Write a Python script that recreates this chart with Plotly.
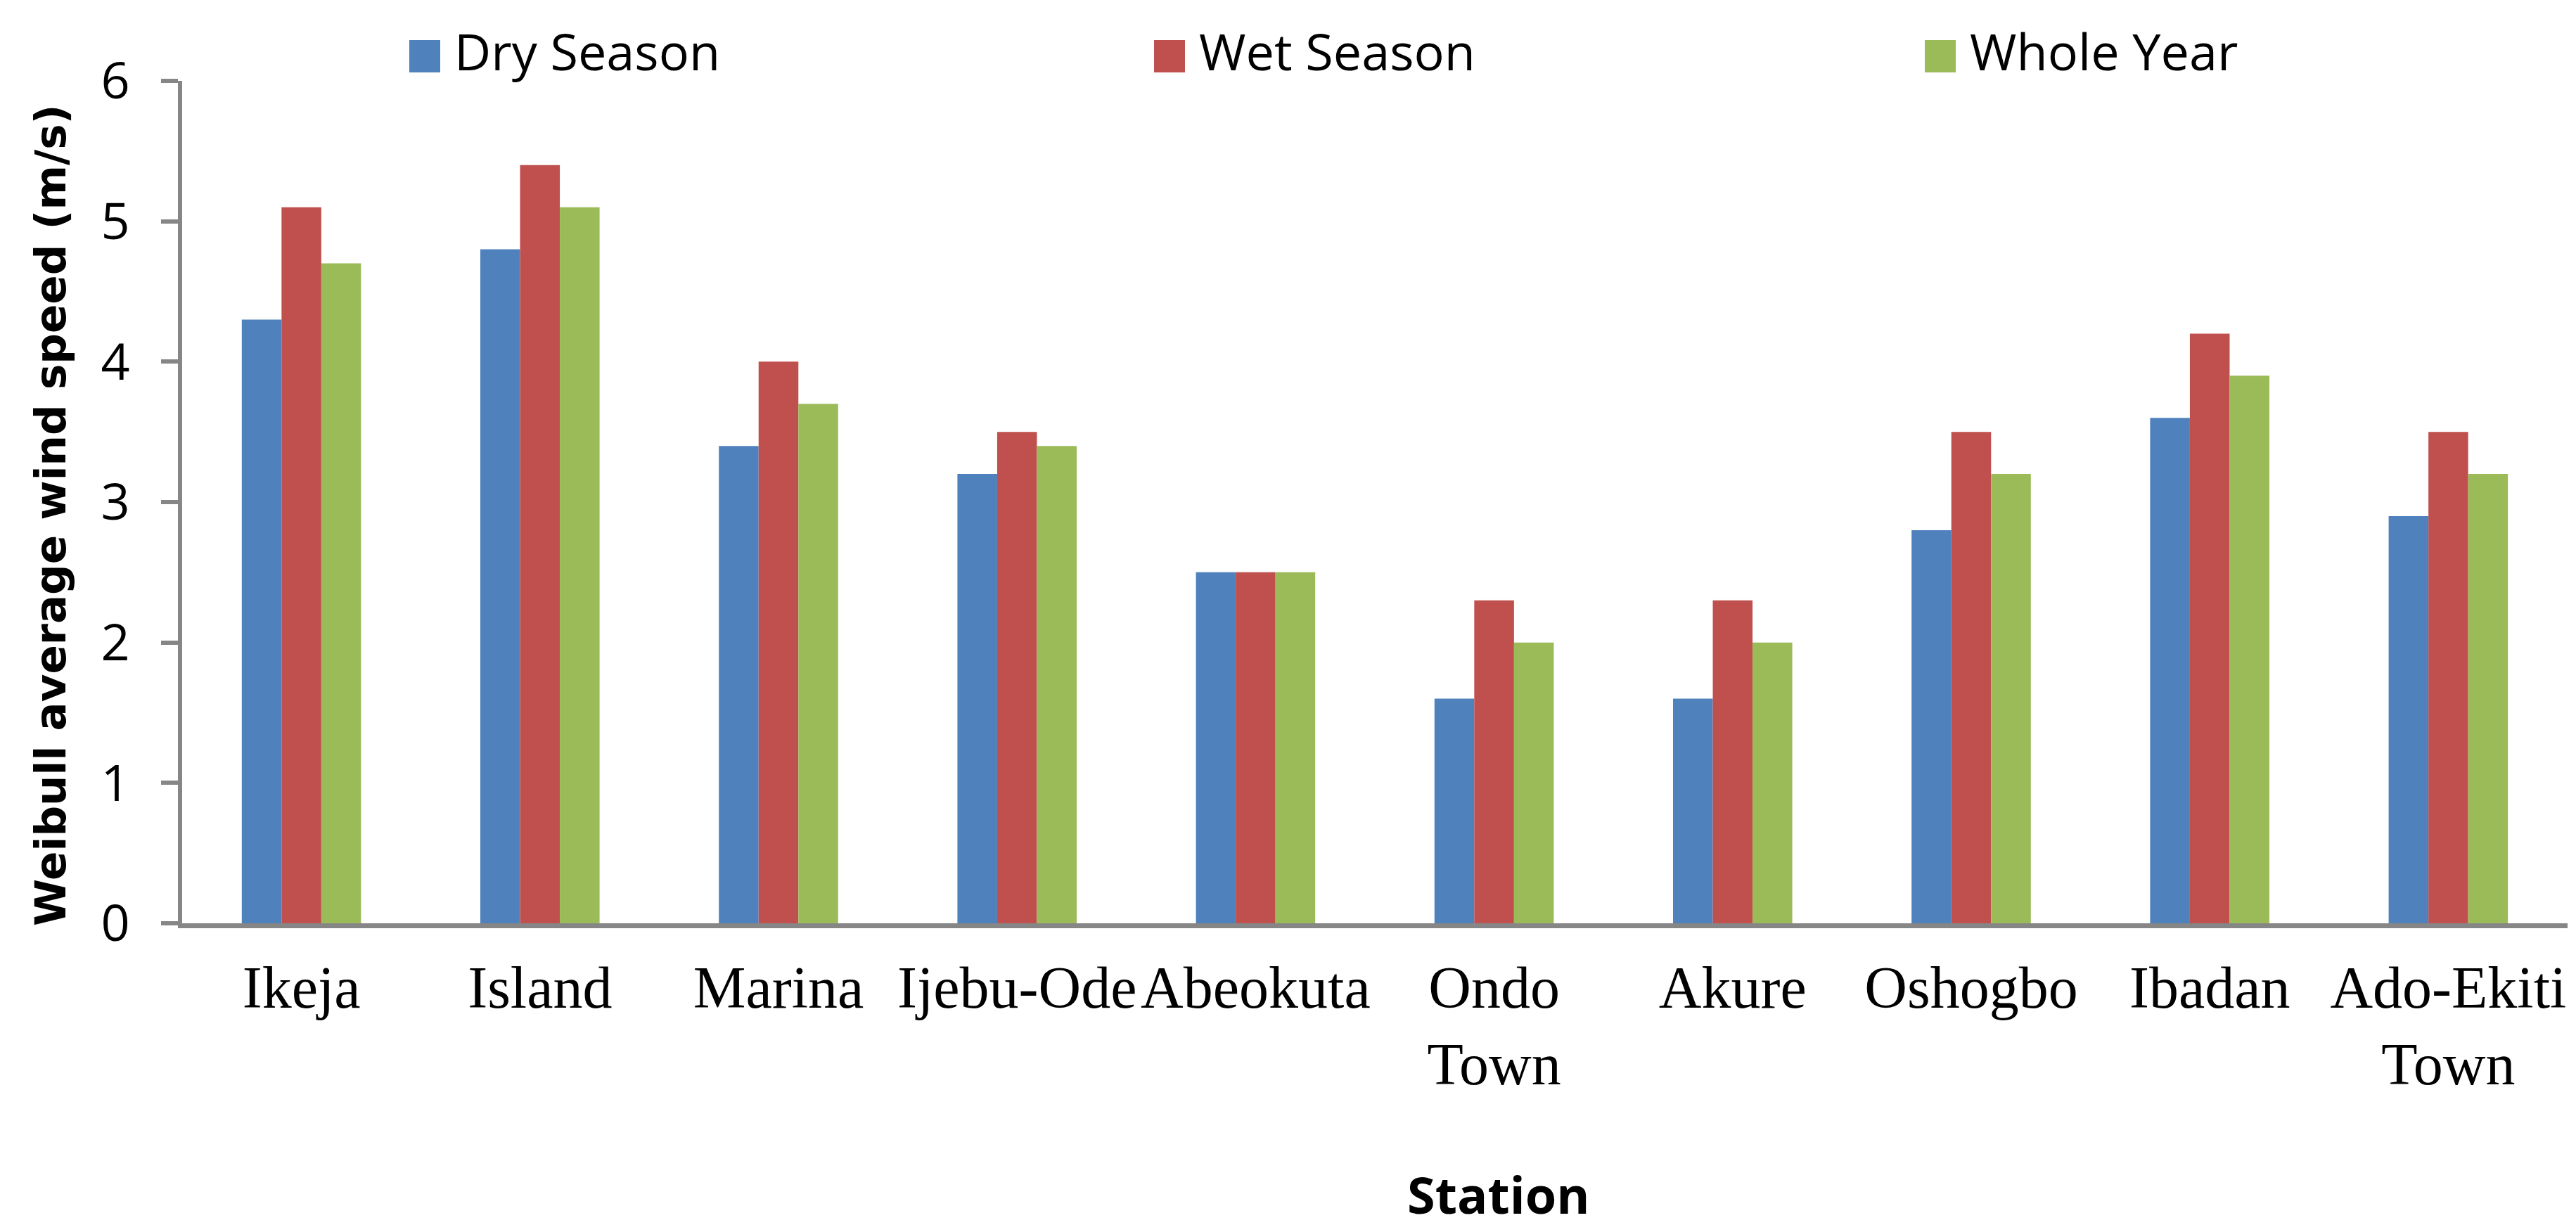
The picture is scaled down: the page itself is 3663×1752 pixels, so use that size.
import plotly.graph_objects as go

stations = ["Ikeja", "Island", "Marina", "Ijebu-Ode", "Abeokuta",
            "Ondo<br>Town", "Akure", "Oshogbo", "Ibadan", "Ado-Ekiti<br>Town"]
dry_season = [4.3, 4.8, 3.4, 3.2, 2.5, 1.6, 1.6, 2.8, 3.6, 2.9]
wet_season = [5.1, 5.4, 4.0, 3.5, 2.5, 2.3, 2.3, 3.5, 4.2, 3.5]
whole_year = [4.7, 5.1, 3.7, 3.4, 2.5, 2.0, 2.0, 3.2, 3.9, 3.2]

series = [("Dry Season", dry_season, "#4F81BD"),
          ("Wet Season", wet_season, "#C0504D"),
          ("Whole Year", whole_year, "#9BBB59")]

W, H = 3663, 1752
L, R, T, B = 251, 20, 107, 447
pw, ph = W - L - R, H - T - B

def px_x(x):
    return (x - L) / pw

def px_y(y):
    return 1 - (y - T) / ph

fig = go.Figure()
for name, vals, col in series:
    fig.add_trace(go.Bar(x=stations, y=vals, name=name, marker_color=col,
                         marker_line_width=0, showlegend=False))

# legend drawn by hand so the swatches can be as big as in the original
legend_left = [574, 1633, 2729]
shapes = []
annotations = []
for (name, vals, col), lx in zip(series, legend_left):
    shapes.append(dict(type="rect", xref="paper", yref="paper",
                       x0=px_x(lx), x1=px_x(lx + 44), y0=px_y(95), y1=px_y(49),
                       fillcolor=col, line_width=0))
    annotations.append(dict(text=name, xref="paper", yref="paper",
                            x=px_x(lx + 62), y=px_y(64), xanchor="left", yanchor="middle",
                            showarrow=False,
                            font=dict(family="Open Sans", size=72, color="black")))

annotations.append(dict(text="<b>Station</b>", xref="paper", yref="paper",
                        x=px_x(2123), y=px_y(1690), xanchor="center", yanchor="middle",
                        showarrow=False,
                        font=dict(family="Open Sans", size=72, color="black")))
annotations.append(dict(text="<b>Weibull average wind speed (m/s)</b>",
                        xref="paper", yref="paper", textangle=-90,
                        x=px_x(63), y=px_y(725), xanchor="center", yanchor="middle",
                        showarrow=False,
                        font=dict(family="DejaVu Sans", size=61, color="black")))

fig.update_layout(
    width=W, height=H,
    margin=dict(l=L, r=R, t=T, b=B),
    plot_bgcolor="white", paper_bgcolor="white",
    barmode="group", bargap=0.5, bargroupgap=0,
    shapes=shapes, annotations=annotations,
)
fig.update_xaxes(
    showline=True, linecolor="#868686", linewidth=7,
    ticks="", tickangle=0, ticklabelstandoff=12,
    tickfont=dict(family="Liberation Serif", size=84, color="black"),
    showgrid=False,
)
fig.update_yaxes(
    range=[0, 6], dtick=1, showline=True, linecolor="#868686", linewidth=6,
    ticks="outside", ticklen=24, tickwidth=6, tickcolor="#868686",
    ticklabelstandoff=30, showgrid=False, zeroline=False,
    tickfont=dict(family="Open Sans", size=72, color="black"),
)

fig.write_html("out.html")
